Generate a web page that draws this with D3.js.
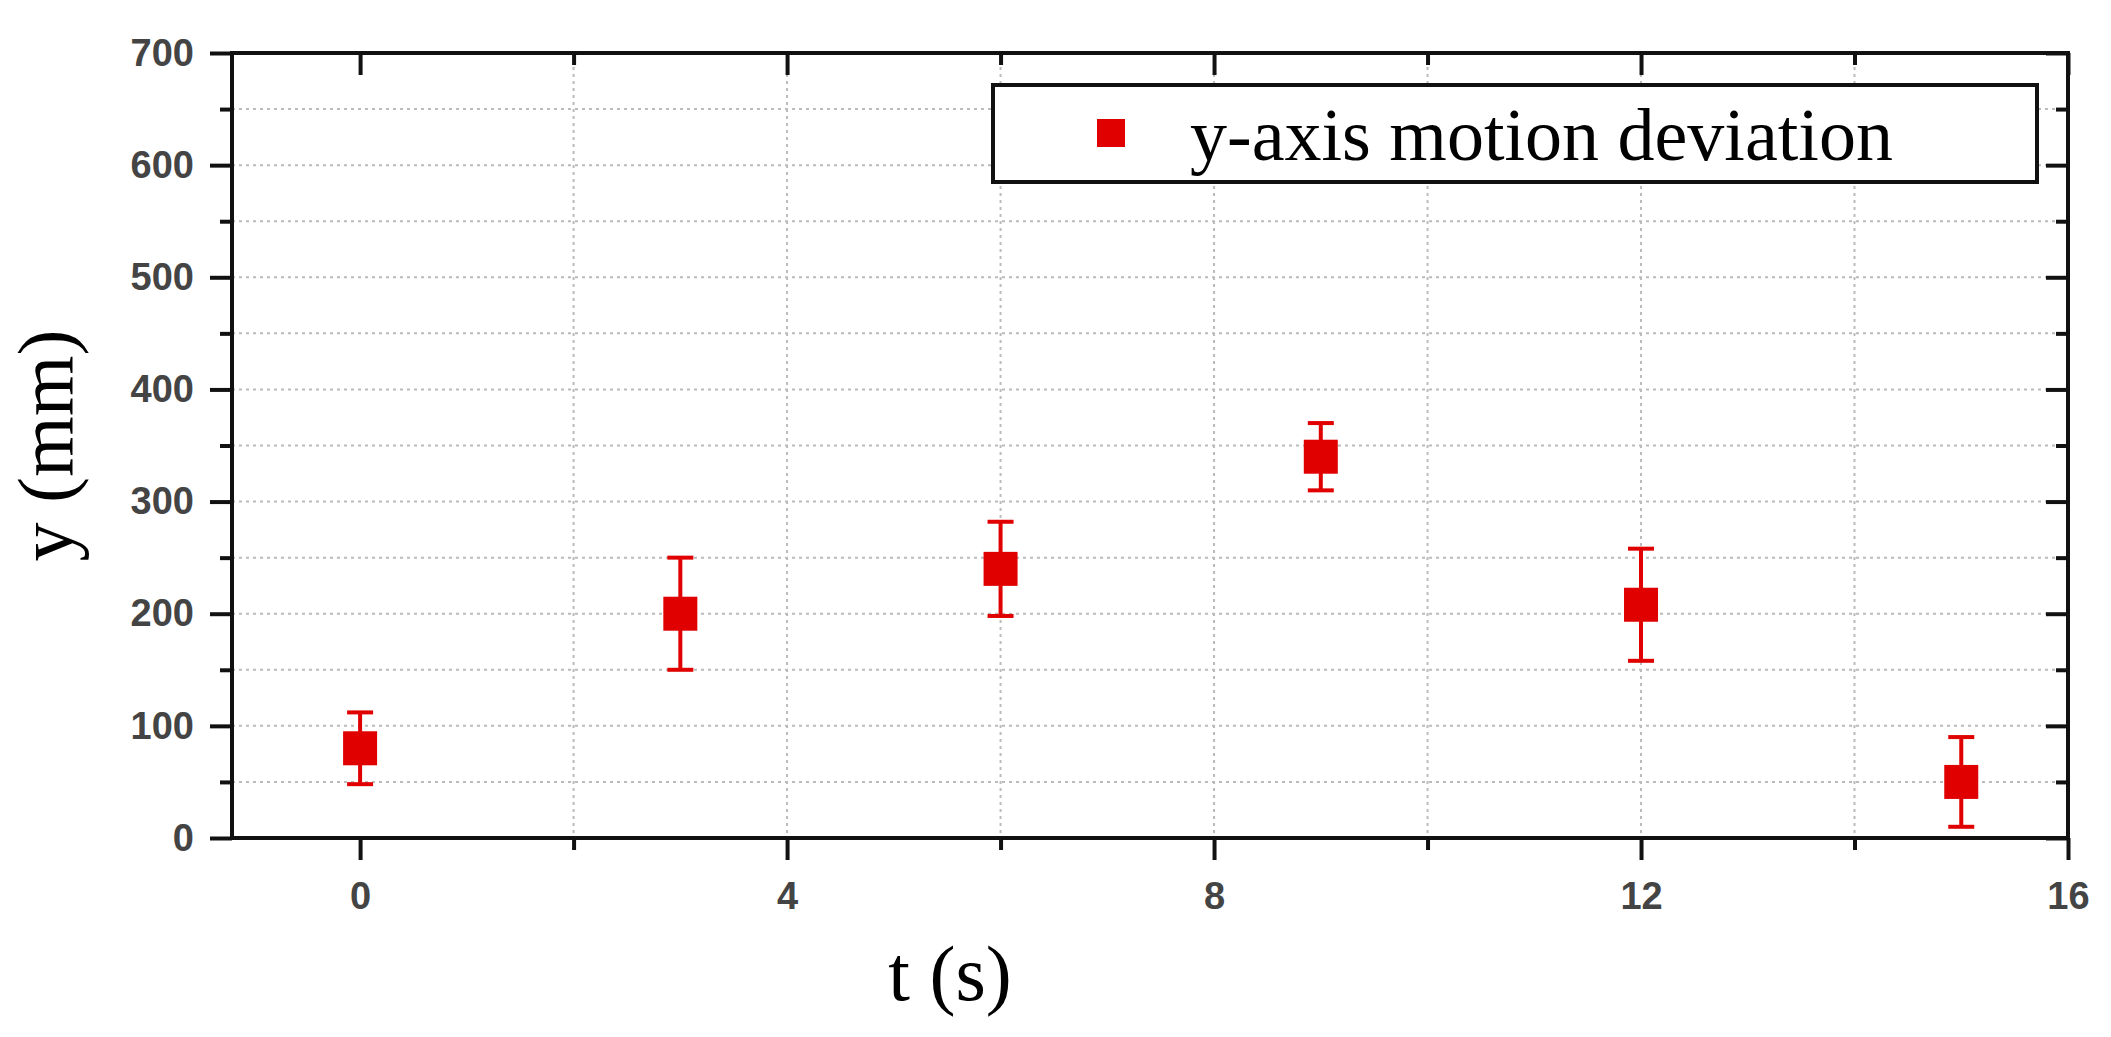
<!DOCTYPE html>
<html><head><meta charset="utf-8">
<script src="https://cdn.jsdelivr.net/npm/d3@7"></script>
<style>body{margin:0;background:#fff}</style>
</head><body><svg id="c" width="2111" height="1037"></svg>
<script>
const times = [0, 3, 6, 9, 12, 15];
const values = [80, 200, 240, 340, 208, 50];
const errors = [32, 50, 42, 30, 50, 40];
const xTicks = [0, 4, 8, 12, 16];
const yTicks = [0, 100, 200, 300, 400, 500, 600, 700];
const legendLabel = "y-axis motion deviation";

const L = 232, R = 2068, T = 53, B = 838;
const RED = "#e00000";
const svg = d3.select("#c");
const x = d3.scaleLinear().domain([-1.2, 16]).range([L, R]);
const y = d3.scaleLinear().domain([0, 700]).range([B, T]);

// dotted grid
const grid = svg.append("g").attr("stroke", "#bbb").attr("stroke-width", 2).attr("stroke-dasharray", "3,4");
grid.selectAll("line.v").data(d3.range(2, 16, 2)).join("line")
  .attr("x1", d => x(d)).attr("x2", d => x(d)).attr("y1", T).attr("y2", B);
grid.selectAll("line.h").data(d3.range(50, 700, 50)).join("line")
  .attr("x1", L).attr("x2", R).attr("y1", d => y(d)).attr("y2", d => y(d));

const tickStyle = g => g.call(s => s.select(".domain").remove())
  .selectAll("line").attr("stroke", "#111").attr("stroke-width", 4);
const labelStyle = s => s.attr("font-family", "Arial, Liberation Sans").attr("font-size", 38)
  .attr("font-weight", "bold").attr("fill", "#444");

// bottom axis (outward), top (inward)
svg.append("g").attr("transform", `translate(0,${B})`)
  .call(d3.axisBottom(x).tickValues(xTicks).tickSize(22).tickPadding(22))
  .call(tickStyle)
  .selectAll("text").call(labelStyle);
svg.append("g").attr("transform", `translate(0,${B})`)
  .call(d3.axisBottom(x).tickValues(d3.range(2, 16, 4)).tickSize(12).tickFormat(""))
  .call(tickStyle);
svg.append("g").attr("transform", `translate(0,${T})`)
  .call(d3.axisBottom(x).tickValues(xTicks).tickSize(22).tickFormat(""))
  .call(tickStyle);
svg.append("g").attr("transform", `translate(0,${T})`)
  .call(d3.axisBottom(x).tickValues(d3.range(2, 16, 4)).tickSize(12).tickFormat(""))
  .call(tickStyle);

// left axis (outward), right (inward)
svg.append("g").attr("transform", `translate(${L},0)`)
  .call(d3.axisLeft(y).tickValues(yTicks).tickSize(22).tickPadding(16))
  .call(tickStyle)
  .selectAll("text").call(labelStyle);
svg.append("g").attr("transform", `translate(${L},0)`)
  .call(d3.axisLeft(y).tickValues(d3.range(50, 700, 100)).tickSize(12).tickFormat(""))
  .call(tickStyle);
svg.append("g").attr("transform", `translate(${R},0)`)
  .call(d3.axisLeft(y).tickValues(yTicks).tickSize(22).tickFormat(""))
  .call(tickStyle);
svg.append("g").attr("transform", `translate(${R},0)`)
  .call(d3.axisLeft(y).tickValues(d3.range(50, 700, 100)).tickSize(12).tickFormat(""))
  .call(tickStyle);

svg.append("rect").attr("x", L).attr("y", T).attr("width", R - L).attr("height", B - T)
  .attr("fill", "none").attr("stroke", "#111").attr("stroke-width", 4);

// axis titles
svg.append("text").attr("x", 950).attr("y", 1000).attr("text-anchor", "middle")
  .attr("font-family", "Liberation Serif, Times New Roman, serif").attr("font-size", 78).text("t (s)");
svg.append("text").attr("transform", `translate(72,${(T + B) / 2}) rotate(-90)`).attr("text-anchor", "middle")
  .attr("font-family", "Liberation Serif, Times New Roman, serif").attr("font-size", 78).text("y (mm)");

// error bars + markers
const pts = times.map((t, i) => ({ t, v: values[i], e: errors[i] }));
const eb = svg.append("g").attr("stroke", RED).attr("stroke-width", 4);
eb.selectAll("line.s").data(pts).join("line")
  .attr("x1", d => x(d.t)).attr("x2", d => x(d.t)).attr("y1", d => y(d.v - d.e)).attr("y2", d => y(d.v + d.e));
eb.selectAll("line.top").data(pts).join("line")
  .attr("x1", d => x(d.t) - 13).attr("x2", d => x(d.t) + 13).attr("y1", d => y(d.v + d.e)).attr("y2", d => y(d.v + d.e));
eb.selectAll("line.bot").data(pts).join("line")
  .attr("x1", d => x(d.t) - 13).attr("x2", d => x(d.t) + 13).attr("y1", d => y(d.v - d.e)).attr("y2", d => y(d.v - d.e));
svg.append("g").selectAll("rect").data(pts).join("rect")
  .attr("x", d => x(d.t) - 17).attr("y", d => y(d.v) - 17).attr("width", 34).attr("height", 34).attr("fill", RED);

// legend
const lg = svg.append("g");
lg.append("rect").attr("x", 993).attr("y", 85).attr("width", 1044).attr("height", 97)
  .attr("fill", "#fff").attr("stroke", "#111").attr("stroke-width", 4);
lg.append("rect").attr("x", 1097).attr("y", 119).attr("width", 28).attr("height", 28).attr("fill", RED);
lg.append("text").attr("x", 1190).attr("y", 160)
  .attr("font-family", "Liberation Serif, Times New Roman, serif").attr("font-size", 74).text(legendLabel);
</script></body></html>
